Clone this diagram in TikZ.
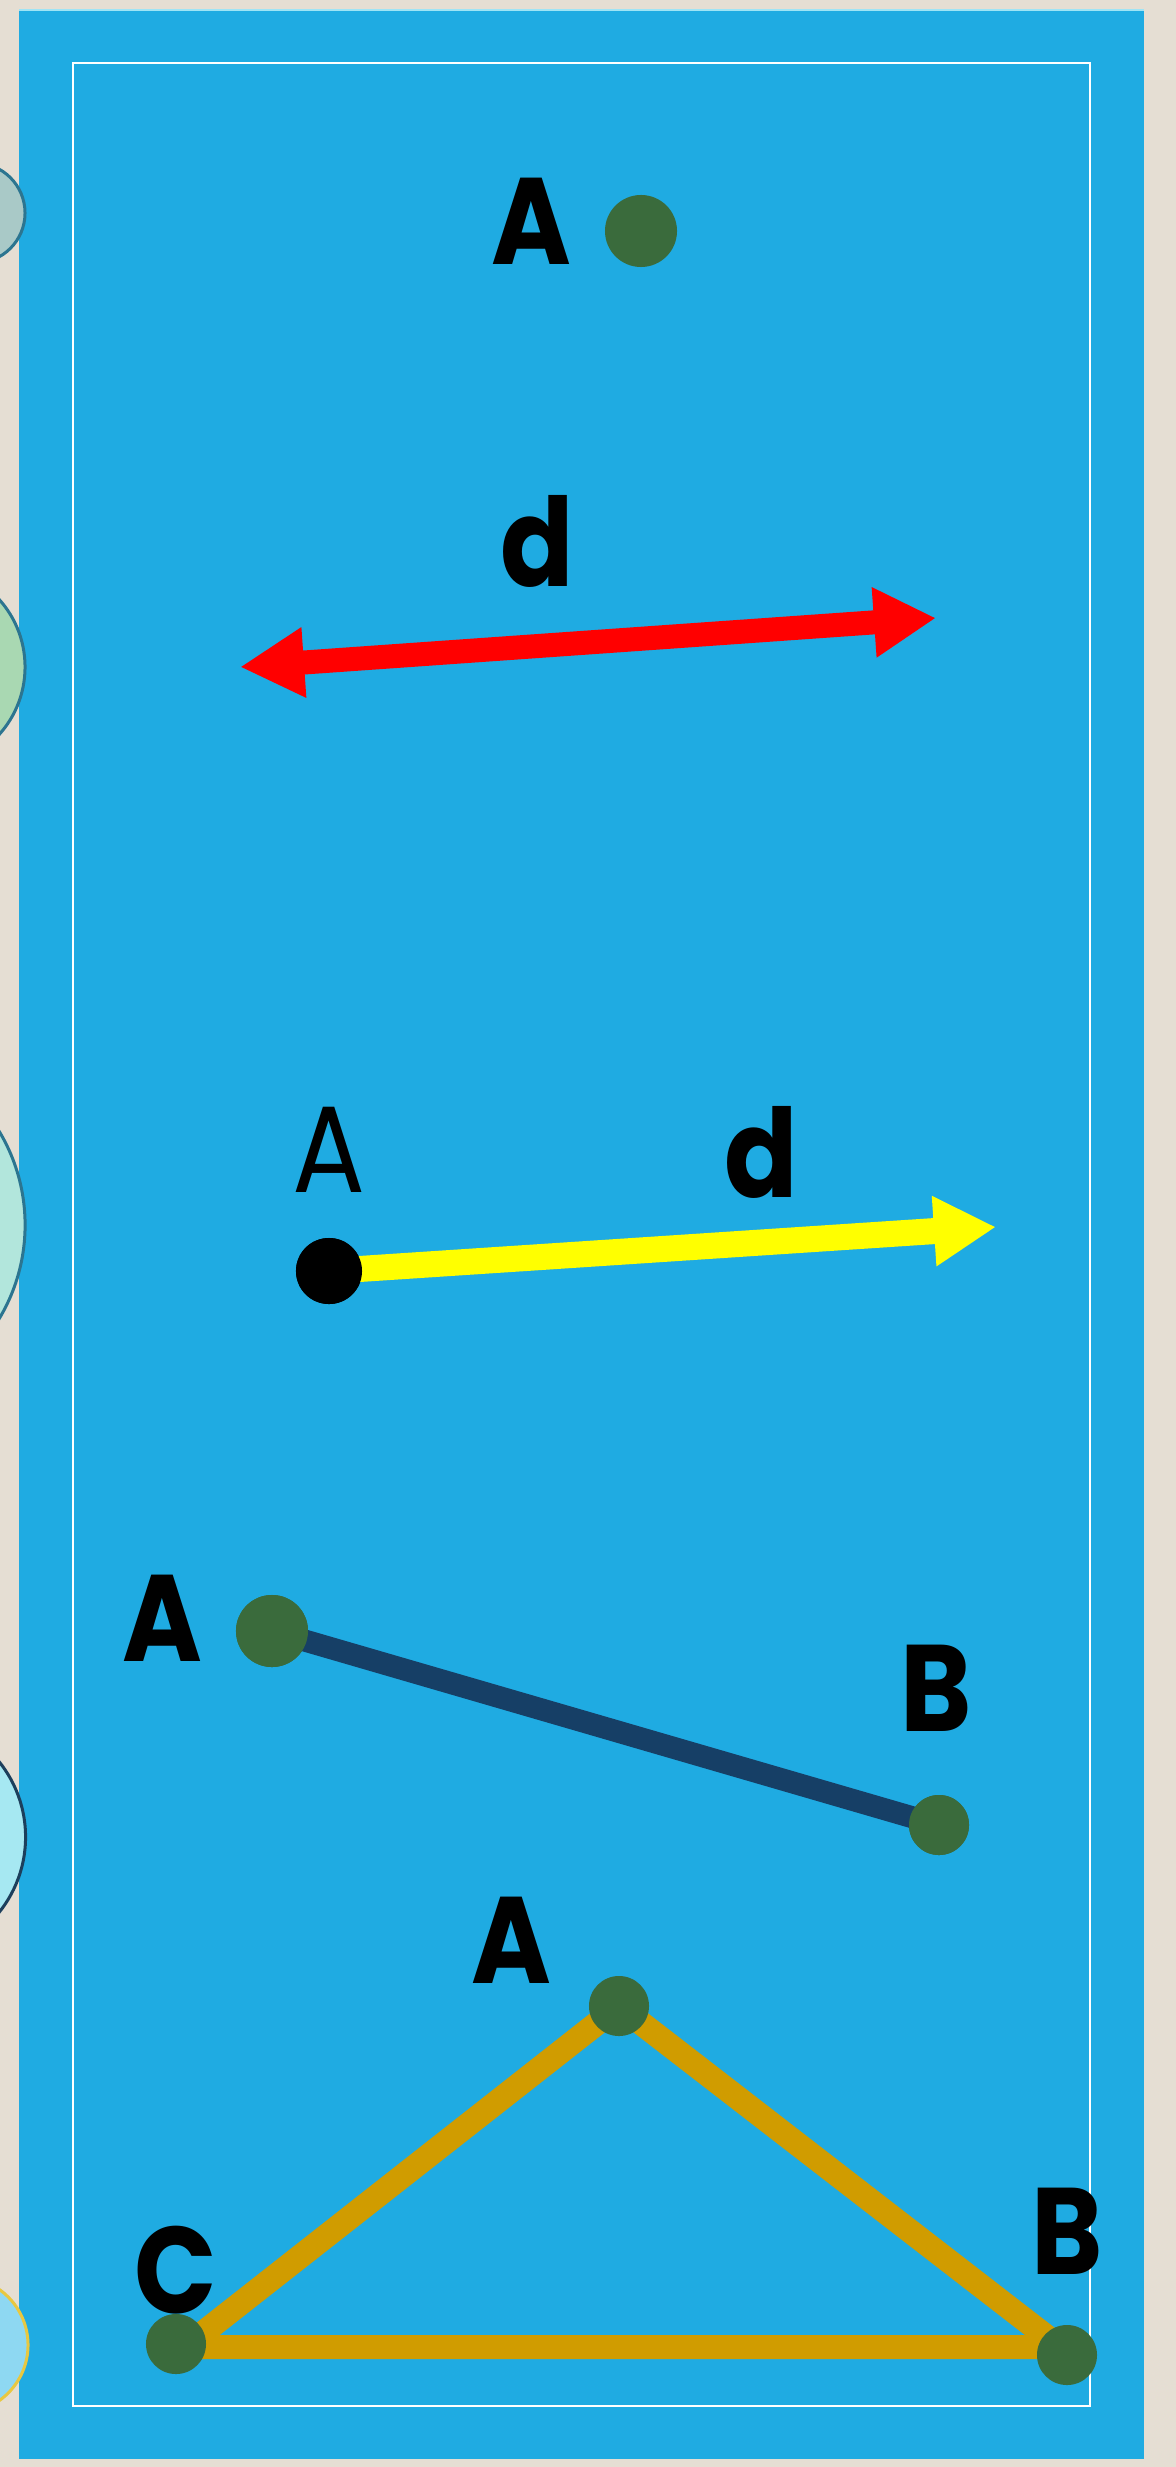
\documentclass[tikz,border=0pt]{standalone}
\usepackage{fontspec}
\setmainfont{Poppins}
\newfontfamily\lblfont{Poppins}[FakeStretch=0.88]
\usetikzlibrary{arrows.meta}
\definecolor{pagebg}{HTML}{E5DED3}
\definecolor{slideblue}{HTML}{1FABE2}
\definecolor{dotgreen}{HTML}{3A6B3C}
\definecolor{navyline}{HTML}{163F66}
\definecolor{goldline}{HTML}{D09C00}
\definecolor{arrowred}{HTML}{FF0000}
\definecolor{arrowyellow}{HTML}{FFFF00}
\definecolor{decoedge}{HTML}{2C7590}
\definecolor{decoone}{HTML}{A9C9C7}
\definecolor{decotwo}{HTML}{A9D8B2}
\definecolor{decothree}{HTML}{B2E6DC}
\definecolor{decofour}{HTML}{A6E8F2}
\definecolor{decofive}{HTML}{8ED8F2}
\definecolor{decofouredge}{HTML}{1C3F5C}
\definecolor{decofiveedge}{HTML}{E8C840}
\definecolor{topline}{HTML}{9FE4F5}
\begin{document}
\begin{tikzpicture}[x=0.01cm,y=-0.01cm,
  boldlbl/.style={font=\lblfont\fontsize{35}{40}\selectfont\bfseries, inner sep=0pt, text=black},
  thinlbl/.style={font=\lblfont\fontsize{35}{40}\selectfont, inner sep=0pt, text=black},
  gdot/.style={circle, fill=dotgreen, draw=none, inner sep=0pt, minimum size=#1},
  bdot/.style={circle, fill=black, draw=none, inner sep=0pt, minimum size=#1},
  deco/.style={line width=0.03cm}]
\useasboundingbox (0,0) rectangle (1176,2467);
\clip (0,0) rectangle (1176,2467);
% background
\fill[pagebg] (0,0) rectangle (1176,2467);
\fill[slideblue] (19,10) rectangle (1144,2459);
\draw[topline, line width=0.02cm] (19,10) -- (1144,10);
% left decorative circles
\draw[deco, fill=decoone, draw=decoedge] (-25,213) circle [radius=0.50cm];
\draw[deco, fill=decotwo, draw=decoedge] (-76,667) circle [radius=1.01cm];
\draw[deco, fill=decothree, draw=decoedge] (-157,1225) circle [radius=1.82cm];
\draw[deco, fill=decofour, draw=decofouredge] (-95,1837) circle [radius=1.205cm];
\draw[deco, fill=decofive, draw=decofiveedge] (-40,2345) circle [radius=0.68cm];
% inner frame
\draw[white, line width=0.02cm] (73,63) rectangle (1090,2406);

% 1: point A
\node[boldlbl] (lA1) at (531,221) {A};
\node[gdot=0.72cm] (pA1) at (641,231) {};

% 2: red double arrow (line)
\node[boldlbl] (ld2) at (537,541) {d};
\coordinate (r2L) at (240,667);
\coordinate (r2R) at (936,618);
\draw[arrowred, line width=0.24cm,
  {Triangle[length=0.64cm,width=0.66cm]}-{Triangle[length=0.62cm,width=0.66cm]}] (r2L) -- (r2R);

% 3: yellow ray
\node[thinlbl] (lA3) at (329,1150) {A};
\node[boldlbl] (ld3) at (761,1152) {d};
\coordinate (y3tip) at (996,1227);
\node[bdot=0.66cm] (pA3) at (329,1271) {};
\draw[arrowyellow, line width=0.26cm, -{Triangle[length=0.62cm,width=0.66cm]}] (pA3.center) -- (y3tip);
\node[bdot=0.66cm] at (pA3) {};

% 4: segment AB
\node[boldlbl] (lA4) at (162,1618) {A};
\node[boldlbl] (lB4) at (936,1688) {B};
\node[gdot=0.72cm] (pA4) at (272,1631) {};
\node[gdot=0.60cm] (pB4) at (939,1825) {};
\draw[navyline, line width=0.22cm] (pA4.center) -- (pB4.center);
\node[gdot=0.72cm] at (pA4) {};
\node[gdot=0.60cm] at (pB4) {};

% 5: triangle
\node[boldlbl] (lA5) at (511,1940) {A};
\node[boldlbl] (lC5) at (176,2270) {C};
\node[boldlbl] (lB5) at (1067,2231) {B};
\coordinate (tA) at (619,2006);
\coordinate (tB) at (1060,2347);
\coordinate (tC) at (185,2347);
\draw[goldline, line width=0.24cm, line join=miter] (tA) -- (tB) -- (tC) -- cycle;
\node[gdot=0.60cm] (pA5) at (619,2006) {};
\node[gdot=0.60cm] (pC5) at (176,2344) {};
\node[gdot=0.60cm] (pB5) at (1067,2355) {};
\end{tikzpicture}
\end{document}
